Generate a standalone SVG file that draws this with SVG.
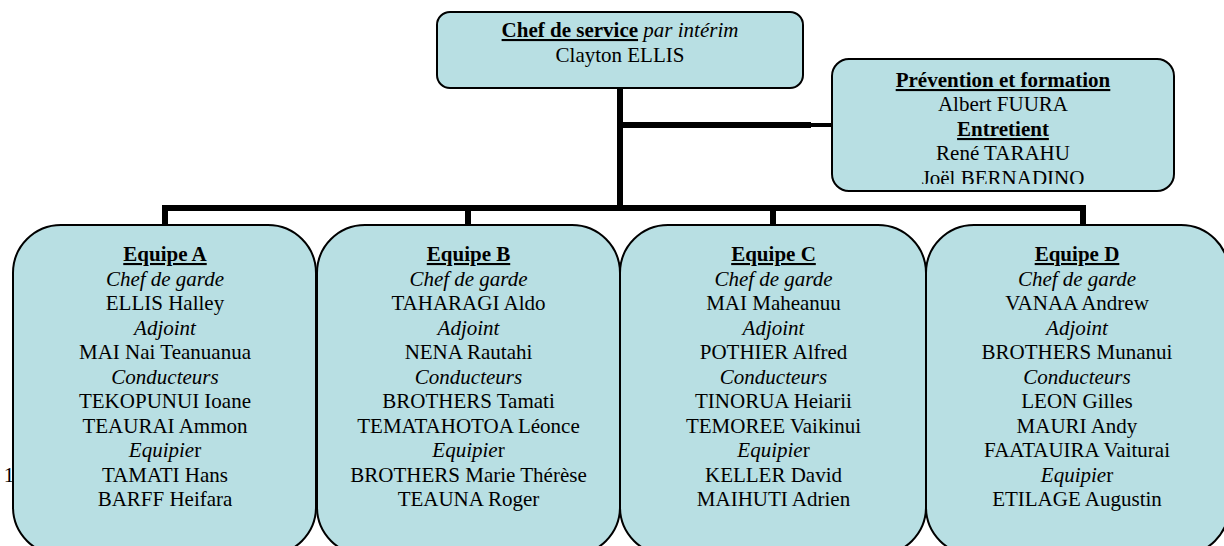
<svg xmlns="http://www.w3.org/2000/svg" width="1224" height="546" viewBox="0 0 1224 546" font-family="Liberation Serif, serif">
<style>
.box{fill:#b8dfe3;stroke:#000;stroke-width:2}
.t{font-family:'Liberation Serif',serif;font-size:21px;fill:#000;text-anchor:middle}
.h{font-weight:bold;text-decoration:underline}
.i{font-style:italic}
.c{fill:none;stroke:#000;stroke-width:6;stroke-linecap:butt}
</style>
<defs>
<clipPath id="clipR"><rect x="832" y="59" width="342" height="125"/></clipPath>
</defs>
<rect width="1224" height="546" fill="#fff"/>
<text class="t" x="9" y="482">1</text>
<g id="connectors">
<path class="c" d="M620 88V208M620 125H811M162 208H1086M165 208V226M468 208V226M773 208V226M1083 208V226"/>
<path d="M810 125H833" stroke="#000" stroke-width="4"/>
</g>
<g id="chef">
<rect class="box" x="437" y="12" width="366" height="76" rx="13"/>
<text class="t" x="620" y="37"><tspan class="h">Chef de service</tspan><tspan class="i"> par intérim</tspan></text>
<text class="t" x="620" y="62">Clayton ELLIS</text>
</g>
<g id="prevention">
<rect class="box" x="832" y="59" width="342" height="132" rx="17"/>
<g clip-path="url(#clipR)">
<text class="t" x="1003" y="87"><tspan class="h">Prévention et formation</tspan></text>
<text class="t" x="1003" y="111">Albert FUURA</text>
<text class="t" x="1003" y="136"><tspan class="h">Entretient</tspan></text>
<text class="t" x="1003" y="160">René TARAHU</text>
<text class="t" x="1003" y="185">Joël BERNADINO</text>
</g>
</g>
<g id="equipeA">
<rect class="box" x="13" y="225" width="303" height="330" rx="48"/>
<text class="t" x="165" y="261"><tspan class="h">Equipe A</tspan></text>
<text class="t i" x="165" y="285.5">Chef de garde</text>
<text class="t" x="165" y="310">ELLIS Halley</text>
<text class="t i" x="165" y="334.5">Adjoint</text>
<text class="t" x="165" y="359">MAI Nai Teanuanua</text>
<text class="t i" x="165" y="383.5">Conducteurs</text>
<text class="t" x="165" y="408">TEKOPUNUI Ioane</text>
<text class="t" x="165" y="432.5">TEAURAI Ammon</text>
<text class="t" x="165" y="457"><tspan class="i">Equipie</tspan>r</text>
<text class="t" x="165" y="481.5">TAMATI Hans</text>
<text class="t" x="165" y="506">BARFF Heifara</text>
</g>
<g id="equipeB">
<rect class="box" x="317" y="225" width="303" height="330" rx="48"/>
<text class="t" x="468.5" y="261"><tspan class="h">Equipe B</tspan></text>
<text class="t i" x="468.5" y="285.5">Chef de garde</text>
<text class="t" x="468.5" y="310">TAHARAGI Aldo</text>
<text class="t i" x="468.5" y="334.5">Adjoint</text>
<text class="t" x="468.5" y="359">NENA Rautahi</text>
<text class="t i" x="468.5" y="383.5">Conducteurs</text>
<text class="t" x="468.5" y="408">BROTHERS Tamati</text>
<text class="t" x="468.5" y="432.5">TEMATAHOTOA Léonce</text>
<text class="t" x="468.5" y="457"><tspan class="i">Equipie</tspan>r</text>
<text class="t" x="468.5" y="481.5">BROTHERS Marie Thérèse</text>
<text class="t" x="468.5" y="506">TEAUNA Roger</text>
</g>
<g id="equipeC">
<rect class="box" x="620" y="225" width="306" height="330" rx="48"/>
<text class="t" x="773.5" y="261"><tspan class="h">Equipe C</tspan></text>
<text class="t i" x="773.5" y="285.5">Chef de garde</text>
<text class="t" x="773.5" y="310">MAI Maheanuu</text>
<text class="t i" x="773.5" y="334.5">Adjoint</text>
<text class="t" x="773.5" y="359">POTHIER Alfred</text>
<text class="t i" x="773.5" y="383.5">Conducteurs</text>
<text class="t" x="773.5" y="408">TINORUA Heiarii</text>
<text class="t" x="773.5" y="432.5">TEMOREE Vaikinui</text>
<text class="t" x="773.5" y="457"><tspan class="i">Equipie</tspan>r</text>
<text class="t" x="773.5" y="481.5">KELLER David</text>
<text class="t" x="773.5" y="506">MAIHUTI Adrien</text>
</g>
<g id="equipeD">
<rect class="box" x="926" y="225" width="303" height="330" rx="48"/>
<text class="t" x="1077" y="261"><tspan class="h">Equipe D</tspan></text>
<text class="t i" x="1077" y="285.5">Chef de garde</text>
<text class="t" x="1077" y="310">VANAA Andrew</text>
<text class="t i" x="1077" y="334.5">Adjoint</text>
<text class="t" x="1077" y="359">BROTHERS Munanui</text>
<text class="t i" x="1077" y="383.5">Conducteurs</text>
<text class="t" x="1077" y="408">LEON Gilles</text>
<text class="t" x="1077" y="432.5">MAURI Andy</text>
<text class="t" x="1077" y="457">FAATAUIRA Vaiturai</text>
<text class="t" x="1077" y="481.5"><tspan class="i">Equipie</tspan>r</text>
<text class="t" x="1077" y="506">ETILAGE Augustin</text>
</g>
</svg>
